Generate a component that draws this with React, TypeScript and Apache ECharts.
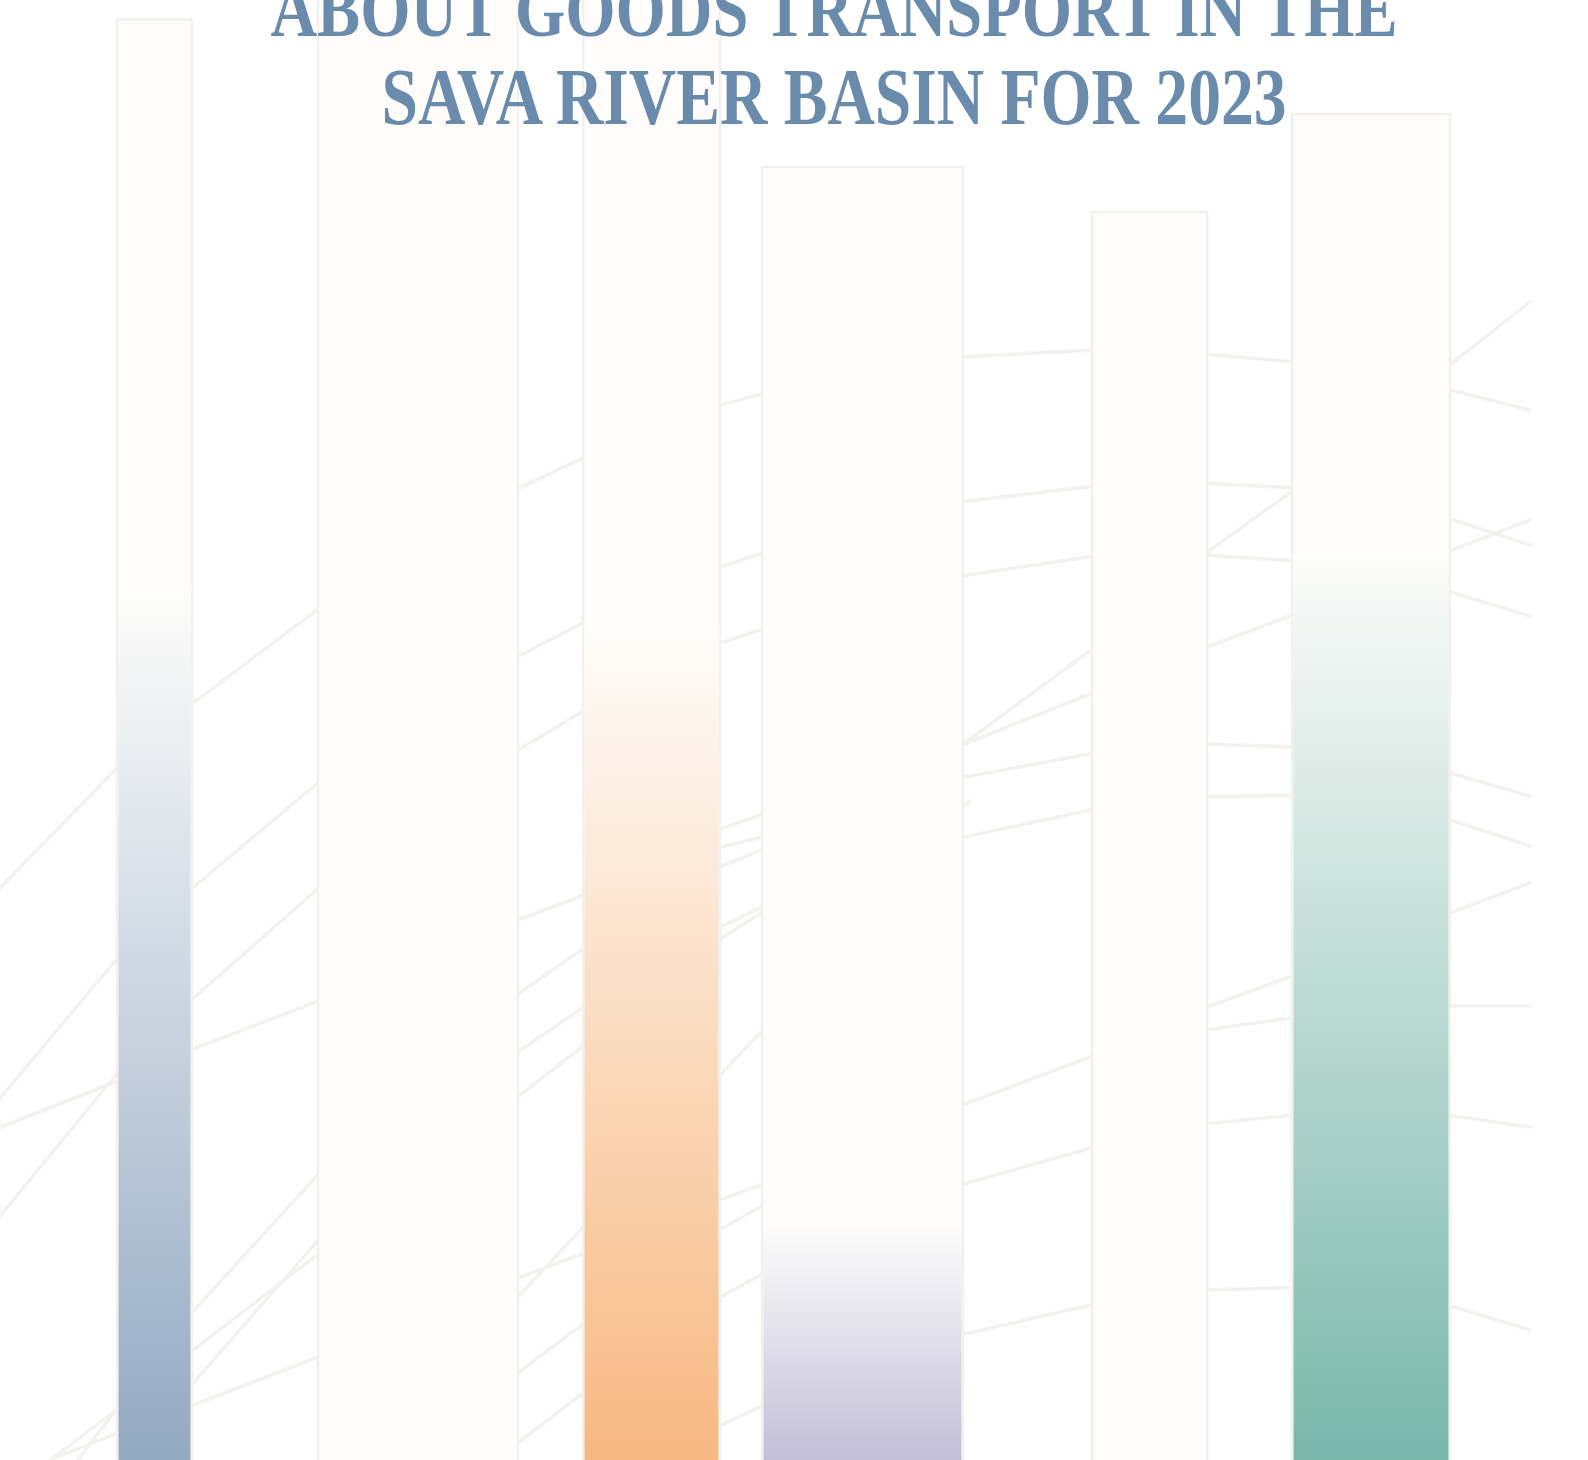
import React, { useEffect, useRef } from "react";
import * as echarts from "echarts";

// ---- data ----
const titleLines = ["ABOUT GOODS TRANSPORT IN THE", "SAVA RIVER BASIN FOR 2023"];

// column extents on the horizontal value scale, and tops on the (inverted) vertical scale
const barStart = [117, 318, 583, 762, 1092, 1292];
const barEnd = [192, 518, 720, 963, 1207, 1450];
const barTop = [19.5, -30, -30, 167, 212, 114];
// where the coloured fill of each column begins (null = no visible fill)
const fillTop: (number | null)[] = [585, null, 625, 1225, null, 545];
const fillColor: (string | null)[] = ["#93a9c2", null, "#f7b882", "#c2bfd7", null, "#79b7ab"];

// background trace segments [x0, y0, x1, y1]
const tracesA = [
  [-4, 892, 120, 765],
  [-4, 1103, 120, 955],
  [-4, 1129, 120, 1080],
  [-4, 1221, 120, 1070],
  [48, 1462, 120, 1407],
  [76, 1462, 120, 1405],
  [55, 1458, 120, 1432],
];
const tracesB = [
  [188, 707, 321, 607],
  [188, 892, 321, 780],
  [188, 1003, 321, 886],
  [188, 1051, 321, 1000],
  [188, 1317, 321, 1171],
  [188, 1354, 321, 1252],
  [188, 1389, 321, 1237],
  [188, 1407, 321, 1356],
];
const tracesC = [
  [515, 490, 587, 456],
  [515, 658, 587, 621],
  [515, 752, 587, 709],
  [515, 921, 587, 894],
  [515, 996, 587, 946],
  [515, 1054, 587, 1005],
  [515, 1099, 587, 1043],
  [515, 1279, 587, 1252],
  [515, 1300, 587, 1223],
  [515, 1375, 587, 1321],
  [515, 1445, 587, 1390],
];
const tracesD = [
  [717, 406, 766, 393],
  [717, 568, 766, 552],
  [717, 644, 766, 628],
  [717, 830, 766, 813],
  [717, 848, 766, 836],
  [717, 868, 766, 848],
  [717, 929, 766, 905],
  [717, 941, 766, 910],
  [717, 1078, 766, 1027],
  [717, 1201, 766, 1183],
  [717, 1231, 766, 1204],
  [717, 1299, 766, 1272],
  [717, 1427, 766, 1404],
];
const tracesE = [
  [960, 357, 1095, 350],
  [960, 502, 1095, 486],
  [960, 576, 1095, 556],
  [962, 745, 1095, 647],
  [962, 745, 1095, 692],
  [960, 778, 1095, 753],
  [960, 838, 1095, 809],
  [962, 808, 970, 801],
  [960, 1106, 1095, 1055],
  [960, 1185, 1095, 1147],
  [960, 1335, 1095, 1304],
];
const tracesF = [
  [1204, 354, 1295, 362],
  [1204, 483, 1295, 488],
  [1206, 553, 1295, 489],
  [1204, 555, 1295, 561],
  [1204, 648, 1295, 614],
  [1204, 744, 1295, 747],
  [1204, 796.5, 1295, 795.5],
  [1204, 1008, 1295, 975],
  [1204, 1030, 1295, 1017.5],
  [1204, 1124, 1295, 1115],
  [1204, 1290, 1295, 1287.5],
];
const tracesG = [
  [1447, 367, 1530, 302],
  [1447, 389, 1530, 410],
  [1447, 518, 1530, 545],
  [1447, 552, 1530, 520],
  [1447, 591, 1530, 616],
  [1447, 772, 1530, 796],
  [1447, 819, 1530, 846],
  [1447, 914, 1530, 883],
  [1447, 1006, 1530, 1006],
  [1447, 1115, 1530, 1127],
  [1447, 1305, 1530, 1330],
];

// ---- layout / style ----
const W = 1588;
const H = 1460;
const X_MAX = 1588;
const Y_MAX = 1460;
const BAR_BASE = 1490;
const CREAM = "#fefdfb";
const EDGE = "#f3f1ee";
const TRACE = "#f3f2ef";
const TITLE_COLOR = "#6a8bab";
const titleMid = [9.6, 97.6];
const titleSize = [64.6, 65.6];

function withAlpha(hex: string, a: number) {
  const n = parseInt(hex.slice(1), 16);
  return `rgba(${(n >> 16) & 255},${(n >> 8) & 255},${n & 255},${a})`;
}

export default function App() {
  const ref = useRef<HTMLDivElement>(null);

  useEffect(() => {
    document.body.style.margin = "0";
    if (!ref.current) return;
    const chart = echarts.init(ref.current, null, { renderer: "svg" });

    const traces = [...tracesA, ...tracesB, ...tracesC, ...tracesD, ...tracesE, ...tracesF, ...tracesG];

    const renderBar = (params: any, api: any) => {
      const i = params.dataIndex;
      const tl = api.coord([barStart[i], barTop[i]]);
      const br = api.coord([barEnd[i], BAR_BASE]);
      const children: any[] = [
        {
          type: "rect",
          shape: { x: tl[0], y: tl[1], width: br[0] - tl[0], height: br[1] - tl[1] },
          style: { fill: CREAM, stroke: EDGE, lineWidth: 2.5 },
        },
      ];
      const ft = fillTop[i];
      const col = fillColor[i];
      if (ft != null && col) {
        const p = api.coord([barStart[i], ft]);
        const bottom = api.coord([barEnd[i], Y_MAX]);
        children.push({
          type: "rect",
          shape: { x: tl[0] + 1.5, y: p[1], width: br[0] - tl[0] - 3, height: bottom[1] - p[1] },
          style: {
            fill: new echarts.graphic.LinearGradient(0, 0, 0, 1, [
              { offset: 0, color: withAlpha(col, 0) },
              { offset: 1, color: withAlpha(col, 1) },
            ]),
          },
        });
      }
      return { type: "group", children };
    };

    chart.setOption({
      animation: false,
      backgroundColor: "#ffffff",
      grid: { left: 0, right: 0, top: 0, bottom: 0, containLabel: false },
      xAxis: { type: "value", min: 0, max: X_MAX, show: false },
      yAxis: { type: "value", min: 0, max: Y_MAX, inverse: true, show: false },
      graphic: titleLines.map((t, k) => ({
        type: "text",
        x: 834,
        y: titleMid[k],
        scaleY: 1.21,
        z: 100,
        style: {
          text: t,
          fill: TITLE_COLOR,
          fontSize: titleSize[k],
          fontWeight: "bold",
          fontFamily: '"Liberation Serif", "Times New Roman", serif',
          align: "center",
          verticalAlign: "middle",
        },
      })),
      series: [
        {
          type: "lines",
          coordinateSystem: "cartesian2d",
          z: 1,
          silent: true,
          lineStyle: { color: TRACE, width: 3.5, opacity: 1, cap: "round", curveness: 0 },
          data: traces.map((s) => ({ coords: [[s[0], s[1]], [s[2], s[3]]] })),
        },
        {
          type: "custom",
          z: 2,
          silent: true,
          clip: false,
          renderItem: renderBar,
          encode: { x: [0, 1], y: 2 },
          data: barStart.map((s, i) => [s, barEnd[i], barTop[i]]),
        },
      ],
    });

    return () => chart.dispose();
  }, []);

  return <div ref={ref} style={{ width: W, height: H }} />;
}
